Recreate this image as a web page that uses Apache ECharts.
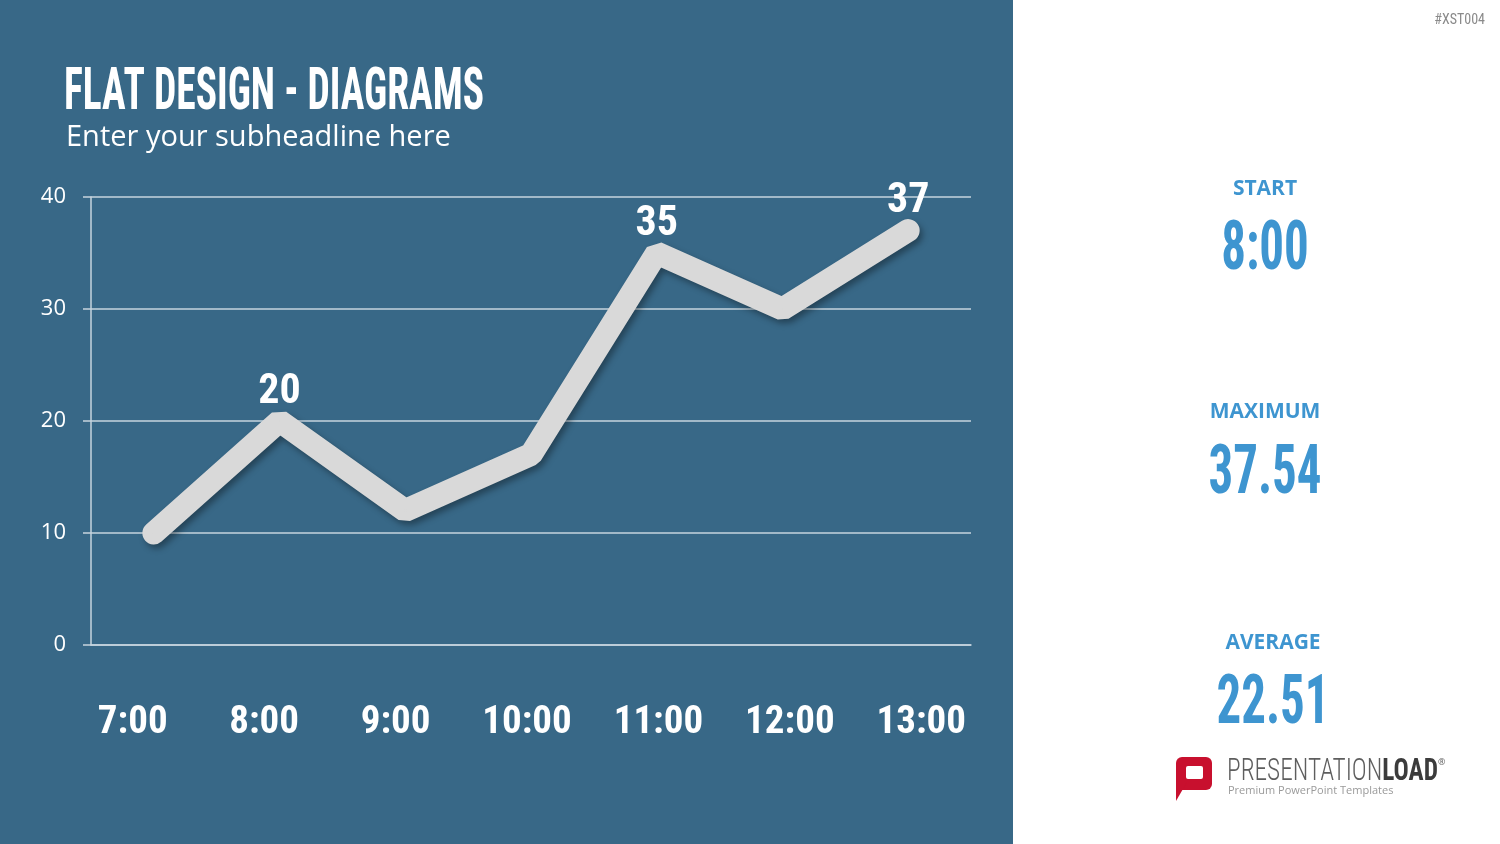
<!DOCTYPE html>
<html lang="en">
<head>
    <meta charset="utf-8">
    <title>Flat Design - Diagrams</title>
    <script src="https://cdn.jsdelivr.net/npm/echarts@6/dist/echarts.min.js"></script>
    <style>
        html, body { height: 100%; margin: 0; }
    </style>
</head>
<body>
    <div id="main" style="width:1500px;height:844px;"></div>
    <script type="text/javascript">
        // data
        var hours = ['7:00', '8:00', '9:00', '10:00', '11:00', '12:00', '13:00'];
        var values = [10, 20, 12, 17, 35, 30, 37];
        var labelledIdx = [1, 4, 6];   // points that carry a value label
        var statNames = ['START', 'MAXIMUM', 'AVERAGE'];
        var statValues = ['8:00', '37.54', '22.51'];

        // Roboto is a variable font, "condensed" gives the narrow cut
        var cond = 'Roboto, sans-serif';
        var body = '"Open Sans", "Noto Sans", sans-serif';
        var blue = '#386887';
        var accent = '#3e95d0';
        var grid = '#c6d4de';

        var myChart = echarts.init(document.getElementById('main'));

        // right panel stats
        var statY = [[189, 246], [412, 470], [643, 700]];
        var statX = [1265, 1265, 1273];
        var statGraphics = [];
        for (var i = 0; i < statNames.length; i++) {
            statGraphics.push({
                type: 'text', x: statX[i], y: statY[i][0],
                style: { text: statNames[i], fill: accent, font: 'bold 21px ' + body, textAlign: 'center', textVerticalAlign: 'middle' }
            });
            statGraphics.push({
                type: 'text', x: statX[i], y: statY[i][1] + 6, scaleX: 0.72,
                style: { text: statValues[i], fill: accent, font: 'bold condensed 68px ' + cond, textAlign: 'center', textVerticalAlign: 'middle' }
            });
        }

        var option = {
            backgroundColor: '#ffffff',
            animation: false,
            graphic: [
                { type: 'rect', z: -10, shape: { x: 0, y: 0, width: 1013, height: 844 }, style: { fill: blue } },
                { type: 'text', x: 64, y: 94, scaleX: 0.67, style: { text: 'FLAT DESIGN - DIAGRAMS', fill: '#ffffff', font: 'bold condensed 59px ' + cond, textVerticalAlign: 'middle' } },
                { type: 'text', x: 66, y: 138, style: { text: 'Enter your subheadline here', fill: '#ffffff', font: '29px ' + body, textVerticalAlign: 'middle' } },
                { type: 'text', x: 1485, y: 20, style: { text: '#XST004', fill: '#8a8a8a', font: 'condensed 14px ' + cond, textAlign: 'right', textVerticalAlign: 'middle' } },
                // logo
                { type: 'rect', shape: { x: 1176, y: 757, width: 36, height: 33, r: 6 }, style: { fill: '#c8102e' } },
                { type: 'polygon', shape: { points: [[1176, 782], [1187, 782], [1176, 801]] }, style: { fill: '#c8102e' } },
                { type: 'rect', shape: { x: 1186, y: 766, width: 17, height: 13, r: 2 }, style: { fill: '#ffffff' } },
                {
                    type: 'text', x: 1227, y: 772, scaleX: 0.79,
                    style: {
                        text: '{a|PRESENTATION}{b|LOAD}', textVerticalAlign: 'middle',
                        rich: {
                            a: { fill: '#5e5e5e', font: '300 condensed 32px ' + cond },
                            b: { fill: '#3c3c3c', font: 'bold condensed 32px ' + cond }
                        }
                    }
                },
                { type: 'text', x: 1438, y: 762, style: { text: '®', fill: '#606060', font: '9px ' + body, textVerticalAlign: 'middle' } },
                { type: 'text', x: 1228, y: 791, style: { text: 'Premium PowerPoint Templates', fill: '#9a9a9a', font: '11px ' + body, textVerticalAlign: 'middle' } }
            ].concat(statGraphics),
            grid: [
                { left: 91, right: 529, top: 197, bottom: 199 },
                { left: 67, right: 513, top: 197, bottom: 199 }
            ],
            xAxis: [
                {
                    gridIndex: 0, type: 'category', data: hours, boundaryGap: true,
                    axisLine: { show: true, lineStyle: { color: grid, width: 1.5 } },
                    axisTick: { show: false }, axisLabel: { show: false }
                },
                {
                    gridIndex: 1, type: 'category', data: hours, boundaryGap: true,
                    axisLine: { show: false }, axisTick: { show: false },
                    axisLabel: { interval: 0, color: '#ffffff', fontFamily: cond, fontWeight: 'bold condensed', fontSize: 39, margin: 59 }
                }
            ],
            yAxis: [
                {
                    gridIndex: 0, type: 'value', min: 0, max: 40, interval: 10,
                    axisLine: { show: true, lineStyle: { color: grid, width: 1.5 } },
                    axisTick: { show: true, length: 8, lineStyle: { color: grid, width: 1.5 } },
                    axisLabel: { color: '#ffffff', fontFamily: body, fontSize: 22, margin: 25, padding: [4, 0, 0, 0] },
                    splitLine: { lineStyle: { color: grid, width: 1.5 } }
                },
                { gridIndex: 1, type: 'value', show: false, min: 0, max: 40 }
            ],
            series: [
                {
                    type: 'line',
                    xAxisIndex: 0, yAxisIndex: 0,
                    data: values.map(function (v, i) {
                        return { value: v, label: { show: labelledIdx.indexOf(i) >= 0 } };
                    }),
                    symbol: 'circle', symbolSize: 2,
                    itemStyle: { color: '#d9d9d9' },
                    lineStyle: {
                        color: '#d9d9d9', width: 23, cap: 'round', join: 'bevel',
                        shadowColor: 'rgba(0,0,0,0.35)', shadowBlur: 6, shadowOffsetX: 3, shadowOffsetY: 4
                    },
                    label: {
                        position: 'top', distance: 7, color: '#ffffff',
                        fontFamily: cond, fontWeight: 'bold condensed', fontSize: 42
                    },
                    emphasis: { disabled: true }
                }
            ]
        };

        myChart.setOption(option);
    </script>
</body>
</html>
